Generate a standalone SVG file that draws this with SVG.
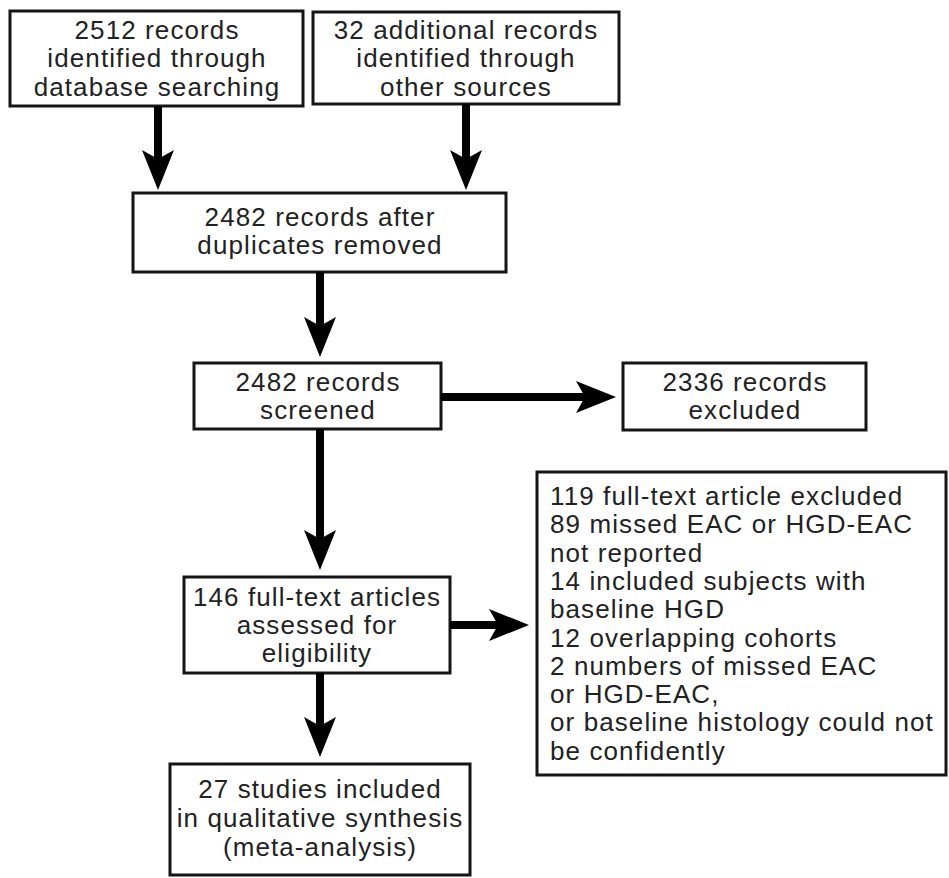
<svg xmlns="http://www.w3.org/2000/svg" width="949" height="878" viewBox="0 0 949 878">
<style>
.box{fill:#fff;stroke:#151515;stroke-width:3}
.t{font-family:"Liberation Sans",Arial,Helvetica,sans-serif;font-size:26px;letter-spacing:1.1px;fill:#222;text-anchor:middle}
.l{text-anchor:start}
.c{stroke:#000;stroke-width:8;fill:none;marker-end:url(#ah)}
</style>
<defs>
<marker id="ah" viewBox="0 0 40 32" refX="9" refY="16" markerWidth="40" markerHeight="32" markerUnits="userSpaceOnUse" orient="auto">
<path d="M0,0 L40,16 L0,32 L9,16 Z" fill="#000"/>
</marker>
</defs>
<rect width="949" height="878" fill="#fff"/>
<g id="n1"><rect class="box" x="10" y="11" width="293" height="95"/>
<text class="t" x="157" y="39">2512 records</text><text class="t" x="157" y="67">identified through</text><text class="t" x="157" y="96">database searching</text></g>
<g id="n2"><rect class="box" x="313" y="12" width="306" height="92"/>
<text class="t" x="466" y="39">32 additional records</text><text class="t" x="466" y="67">identified through</text><text class="t" x="466" y="96">other sources</text></g>
<g id="n3"><rect class="box" x="133" y="193" width="373" height="79"/>
<text class="t" x="320" y="226">2482 records after</text><text class="t" x="320" y="254">duplicates removed</text></g>
<g id="n4"><rect class="box" x="194" y="363" width="247" height="66"/>
<text class="t" x="318" y="391">2482 records</text><text class="t" x="318" y="419">screened</text></g>
<g id="n5"><rect class="box" x="623" y="363" width="243" height="67"/>
<text class="t" x="745" y="391">2336 records</text><text class="t" x="745" y="419">excluded</text></g>
<g id="n6"><rect class="box" x="184" y="577" width="266" height="96"/>
<text class="t" x="317" y="606">146 full-text articles</text><text class="t" x="317" y="634">assessed for</text><text class="t" x="317" y="662">eligibility</text></g>
<g id="n7"><rect class="box" x="537" y="472" width="409" height="303"/>
<text class="t l" x="550" y="505">119 full-text article excluded</text>
<text class="t l" x="550" y="533">89 missed EAC or HGD-EAC</text>
<text class="t l" x="550" y="562">not reported</text>
<text class="t l" x="550" y="590">14 included subjects with</text>
<text class="t l" x="550" y="618">baseline HGD</text>
<text class="t l" x="550" y="647">12 overlapping cohorts</text>
<text class="t l" x="550" y="675">2 numbers of missed EAC</text>
<text class="t l" x="550" y="703">or HGD-EAC,</text>
<text class="t l" x="550" y="731">or baseline histology could not</text>
<text class="t l" x="550" y="760">be confidently</text></g>
<g id="n8"><rect class="box" x="170" y="764" width="300" height="111"/>
<text class="t" x="320" y="798">27 studies included</text><text class="t" x="320" y="827">in qualitative synthesis</text><text class="t" x="320" y="856">(meta-analysis)</text></g>
<g id="connectors">
<line class="c" x1="158" y1="106" x2="158" y2="159"/>
<line class="c" x1="466" y1="104" x2="466" y2="159"/>
<line class="c" x1="320" y1="272" x2="320" y2="326"/>
<line class="c" x1="441" y1="397" x2="585" y2="397"/>
<line class="c" x1="320" y1="429" x2="320" y2="539"/>
<line class="c" x1="450" y1="625" x2="498" y2="625"/>
<line class="c" x1="320" y1="673" x2="320" y2="726"/>
</g>
</svg>
